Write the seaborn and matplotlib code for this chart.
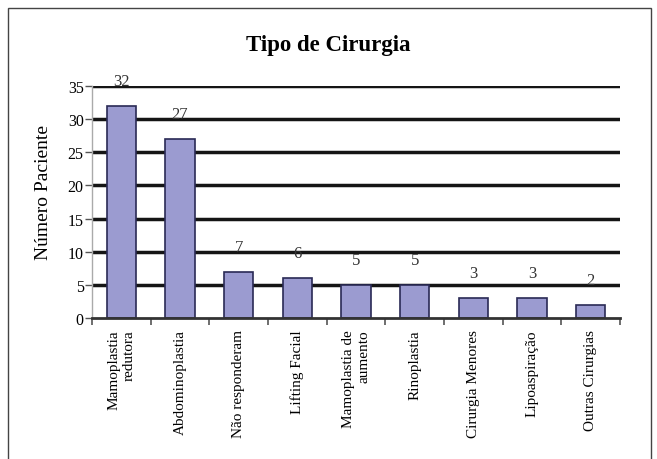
import matplotlib
matplotlib.use("Agg")
import matplotlib.pyplot as plt
import seaborn as sns
import pandas as pd
from matplotlib.patches import Rectangle

categories = ["Mamoplastia\nredutora", "Abdominoplastia", "Não responderam", "Lifting Facial",
              "Mamoplastia de\naumento", "Rinoplastia", "Cirurgia Menores", "Lipoaspiração",
              "Outras Cirurgias"]
values = [32, 27, 7, 6, 5, 5, 3, 3, 2]
y_ticks = [0, 5, 10, 15, 20, 25, 30, 35]

df = pd.DataFrame({"cat": categories, "val": values})

sns.set_style("white")
plt.rcParams["font.family"] = ["Liberation Serif", "DejaVu Serif"]
plt.rcParams["text.color"] = "black"
plt.rcParams["axes.labelcolor"] = "black"
plt.rcParams["xtick.color"] = "black"
plt.rcParams["ytick.color"] = "black"

fig = plt.figure(figsize=(6.57, 4.6), dpi=100)
ax = fig.add_axes([92/657, 1-319/460, (620-92)/657, (319-87)/460])

# gridlines behind bars
for t in y_ticks[1:]:
    ax.axhline(t, color="#151515", lw=2.5, zorder=0)

sns.barplot(data=df, x="cat", y="val", ax=ax, color="#9b9bd0", width=0.5,
            edgecolor="#2a2a55", linewidth=1.2, saturation=1, zorder=2)

for i, v in enumerate(values):
    ax.annotate(str(v), (i, v), xytext=(0, 18), textcoords="offset points",
                ha="center", va="center", fontsize=12, color="#333333")

ax.set_xlim(-0.5, 8.5)
ax.set_ylim(0, 35)
ax.set_yticks(y_ticks)
ax.set_yticklabels([str(t) for t in y_ticks], fontsize=11.5)
ax.tick_params(axis="y", length=5, width=1, color="#555555", pad=1, left=True,
               labelcolor="black")
ax.set_xticks(range(len(categories)))
ax.set_xticklabels(categories, rotation=90, fontsize=11, va="top", ha="center",
                   multialignment="right")
ax.tick_params(axis="x", length=0, pad=8, labelcolor="black")
ax.set_xticks([i - 0.5 for i in range(len(categories) + 1)], minor=True)
ax.tick_params(axis="x", which="minor", length=5, width=1.2, color="#555555", bottom=True)

ax.set_xlabel("")
ax.set_ylabel("Número Paciente", fontsize=14, color="black")
ax.yaxis.set_label_coords(-0.076, 0.547)
ax.yaxis.label.set_horizontalalignment("center")
for s in ["top", "right"]:
    ax.spines[s].set_visible(False)
ax.spines["left"].set_color("#aaaaaa")
ax.spines["left"].set_linewidth(1)
ax.spines["bottom"].set_color("#333333")
ax.spines["bottom"].set_linewidth(2)

fig.text(328/657, 1-45/460, "Tipo de Cirurgia", ha="center", va="center",
         fontsize=16.5, fontweight="bold", color="black")

fig.patches.append(Rectangle((8/657, -0.05), (651-8)/657, 1.05-9/460,
                             transform=fig.transFigure, fill=False,
                             edgecolor="#444444", lw=1))

fig.savefig("out.png", dpi=100)
